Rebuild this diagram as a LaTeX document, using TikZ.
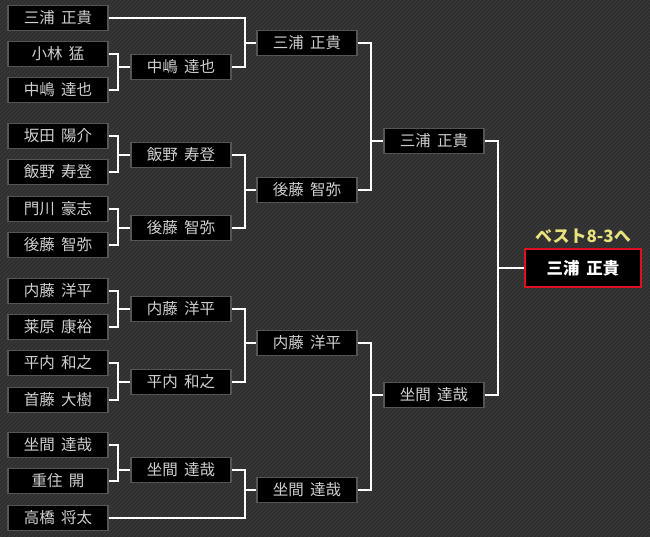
\documentclass[tikz,border=0pt]{standalone}
\usepackage{fontspec}
\newfontfamily\jp{Noto Sans CJK JP}
\newcommand\gap{\hspace{0.4em}}
\definecolor{bgbase}{HTML}{2C2C2C}
\definecolor{bgstripe}{HTML}{3A3A3A}
\definecolor{boxline}{HTML}{555555}
\definecolor{txt}{HTML}{CFCFCF}
\definecolor{finalred}{HTML}{E0101C}
\definecolor{lbl}{HTML}{E8E27E}
\begin{document}
\begin{tikzpicture}[x=1pt,y=-1pt,
  player/.style={draw=boxline,line width=1.4pt,fill=black,text=txt,
    minimum width=100pt,minimum height=25pt,inner sep=0pt,
    font=\jp\fontsize{15.5}{17}\selectfont},
  champ/.style={draw=finalred,line width=2.5pt,fill=black,text=white,
    minimum width=116pt,minimum height=38pt,inner sep=0pt,
    font=\jp\bfseries\fontsize{16.5}{18}\selectfont},
  conn/.style={draw=white,line width=2.7pt}]
\useasboundingbox (0,0) rectangle (650,537);
\fill[bgbase] (0,0) rectangle (650,537);
\begin{scope}
\clip (0,0) rectangle (650,537);
\foreach \k in {-540,-536,...,652}
  \draw[bgstripe,line width=1.3pt] (\k,537) -- ++(537,-537);
\end{scope}
% vertical connector columns
\coordinate (v1) at (118,0);
\coordinate (v2) at (245,0);
\coordinate (v3) at (371,0);
\coordinate (v4) at (498,0);
% round 1
\node[player] (a1)  at (58,18)  {三浦\gap 正貴};
\node[player] (a2)  at (58,54)  {小林\gap 猛};
\node[player] (a3)  at (58,90)  {中嶋\gap 達也};
\node[player] (a4)  at (58,136) {坂田\gap 陽介};
\node[player] (a5)  at (58,172) {飯野\gap 寿登};
\node[player] (a6)  at (58,209) {門川\gap 豪志};
\node[player] (a7)  at (58,245) {後藤\gap 智弥};
\node[player] (a8)  at (58,291) {内藤\gap 洋平};
\node[player] (a9)  at (58,327) {莱原\gap 康裕};
\node[player] (a10) at (58,363) {平内\gap 和之};
\node[player] (a11) at (58,400) {首藤\gap 大樹};
\node[player] (a12) at (58,445) {坐間\gap 達哉};
\node[player] (a13) at (58,481) {重住\gap 開};
\node[player] (a14) at (58,518) {高橋\gap 将太};
% round 2
\node[player] (b1) at (181,67)  {中嶋\gap 達也};
\node[player] (b2) at (181,155) {飯野\gap 寿登};
\node[player] (b3) at (181,228) {後藤\gap 智弥};
\node[player] (b4) at (181,309) {内藤\gap 洋平};
\node[player] (b5) at (181,382) {平内\gap 和之};
\node[player] (b6) at (181,470) {坐間\gap 達哉};
% round 3
\node[player] (c1) at (307,43)  {三浦\gap 正貴};
\node[player] (c2) at (307,190) {後藤\gap 智弥};
\node[player] (c3) at (307,343) {内藤\gap 洋平};
\node[player] (c4) at (307,490) {坐間\gap 達哉};
% round 4
\node[player] (d1) at (434,141) {三浦\gap 正貴};
\node[player] (d2) at (434,395) {坐間\gap 達哉};
% final
\node[champ] (f) at (583,268) {三浦\gap 正貴};
\node[font=\jp\bfseries\fontsize{17}{19}\selectfont,text=lbl,inner sep=0pt,anchor=base] (lab) at (583,243) {ベスト8-3へ};
% connectors round1 -> round2
\foreach \p/\q/\w in {a2/a3/b1,a4/a5/b2,a6/a7/b3,a8/a9/b4,a10/a11/b5,a12/a13/b6}{
  \draw[conn] (\p.east) -| (v1 |- \w.west) -- (\w.west);
  \draw[conn] (\q.east) -| (v1 |- \w.west);
}
% round2 -> round3
\foreach \p/\q/\w in {a1/b1/c1,b2/b3/c2,b4/b5/c3,b6/a14/c4}{
  \draw[conn] (\p.east) -| (v2 |- \w.west) -- (\w.west);
  \draw[conn] (\q.east) -| (v2 |- \w.west);
}
% round3 -> round4
\foreach \p/\q/\w in {c1/c2/d1,c3/c4/d2}{
  \draw[conn] (\p.east) -| (v3 |- \w.west) -- (\w.west);
  \draw[conn] (\q.east) -| (v3 |- \w.west);
}
% round4 -> final
\draw[conn] (d1.east) -| (v4 |- f.west) -- (f.west);
\draw[conn] (d2.east) -| (v4 |- f.west);
\end{tikzpicture}
\end{document}
